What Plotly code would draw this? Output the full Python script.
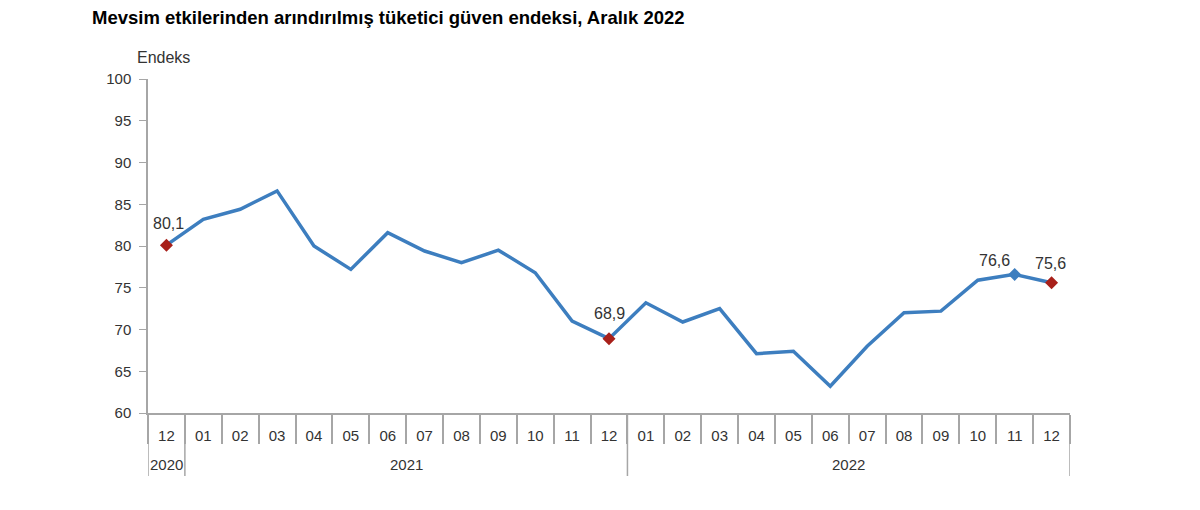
import plotly.graph_objects as go

years = ["2020"] + ["2021"] * 12 + ["2022"] * 12
months = ["12", "01", "02", "03", "04", "05", "06", "07", "08", "09", "10", "11", "12",
          "01", "02", "03", "04", "05", "06", "07", "08", "09", "10", "11", "12"]
values = [80.1, 83.2, 84.4, 86.6, 80.0, 77.2, 81.6, 79.4, 78.0, 79.5, 76.8, 71.0, 68.9,
          73.2, 70.9, 72.5, 67.1, 67.4, 63.2, 68.0, 72.0, 72.2, 75.9, 76.6, 75.6]

red_idx = [0, 12, 24]
blue_idx = [23]
labelled_idx = [0, 12, 23, 24]

LINE = "#3d7ebf"
RED = "#a8201a"
GREY = "#a6a6a6"
TXT = "#333333"

idx = list(range(len(values)))
fmt = lambda v: f"{v:.1f}".replace(".", ",")

fig = go.Figure()
fig.add_trace(go.Scatter(
    x=idx, y=values, mode="lines",
    line=dict(color=LINE, width=3.5), hoverinfo="skip", showlegend=False,
))
fig.add_trace(go.Scatter(
    x=[idx[i] for i in blue_idx], y=[values[i] for i in blue_idx], mode="markers",
    marker=dict(symbol="diamond", size=10, color=LINE), showlegend=False,
))
fig.add_trace(go.Scatter(
    x=[idx[i] for i in red_idx], y=[values[i] for i in red_idx], mode="markers",
    marker=dict(symbol="diamond", size=10, color=RED), showlegend=False,
))

plot_h = 334
annotations = []
shapes = []

# value labels
label_shift = {0: (2, 22), 12: (0, 25), 23: (-20, 14), 24: (-1, 19)}
for i in labelled_idx:
    dx, dy = label_shift[i]
    annotations.append(dict(text=fmt(values[i]), x=idx[i], y=values[i], xref="x", yref="y",
                            showarrow=False, xshift=dx, yshift=dy,
                            font=dict(size=16, color=TXT)))

# year group labels and dividers (derived from the category data)
groups = []
for i, y in enumerate(years):
    if not groups or groups[-1][0] != y:
        groups.append([y, i, i])
    else:
        groups[-1][2] = i
for y, a, b in groups:
    annotations.append(dict(text=y, x=(a + b) / 2, xref="x", y=-51 / plot_h, yref="paper",
                            showarrow=False, xanchor="center", yanchor="middle",
                            font=dict(size=15, color=TXT)))
bounds = [groups[0][1] - 0.5] + [g[2] + 0.5 for g in groups]
for bx in bounds:
    shapes.append(dict(type="line", xref="x", yref="paper", x0=bx, x1=bx, y0=0, y1=-63 / plot_h,
                       line=dict(color=GREY, width=1.5)))

annotations.append(dict(text="Endeks", xref="paper", yref="paper", x=15 / 922, y=1 + 22 / plot_h,
                        xanchor="center", yanchor="middle", showarrow=False,
                        font=dict(size=16, color=TXT)))

fig.update_layout(
    width=1200, height=510,
    margin=dict(l=140, r=138, t=71, b=105),
    paper_bgcolor="white", plot_bgcolor="white",
    font=dict(family="Arial", size=15, color=TXT),
    title=dict(text="<b>Mevsim etkilerinden arındırılmış tüketici güven endeksi, Aralık 2022</b>",
               x=84 / 1200, xanchor="left", y=1 - 10 / 510, yanchor="middle",
               font=dict(size=18.5, color="black", family="Arial")),
    xaxis=dict(
        range=[-0.5, len(values) - 0.5], tickvals=idx, ticktext=months, ticks="",
        ticklabelstandoff=8,
        showline=True, linecolor=GREY, linewidth=1.5,
        minor=dict(ticks="outside", tick0=-0.5, dtick=1, ticklen=29, tickcolor=GREY,
                   tickwidth=1.5, showgrid=False),
        showgrid=False, zeroline=False, tickfont=dict(size=15, color=TXT),
    ),
    yaxis=dict(
        range=[60, 100], dtick=5, showline=True, linecolor=GREY, linewidth=1.5,
        ticks="outside", ticklen=7, tickcolor=GREY, showgrid=False, zeroline=False,
        ticklabelstandoff=5, tickfont=dict(size=15, color=TXT),
    ),
    annotations=annotations,
    shapes=shapes,
)

fig.write_html("out.html")
